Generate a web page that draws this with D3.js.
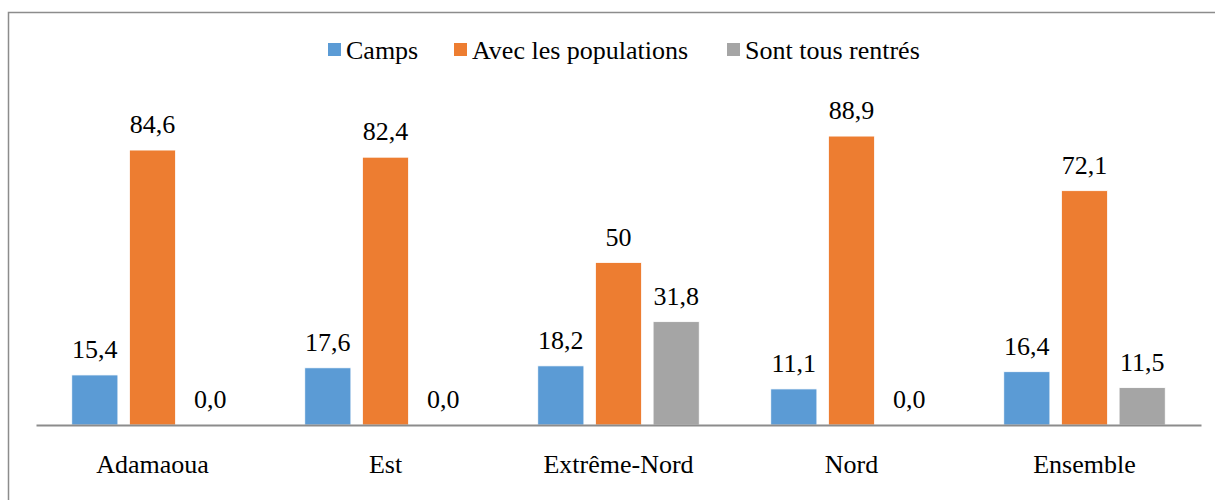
<!DOCTYPE html>
<html>
<head>
<meta charset="utf-8">
<script src="https://cdn.jsdelivr.net/npm/d3@7"></script>
</head>
<body style="margin:0">
<svg id="chart" width="1215" height="500" font-family="Times New Roman"></svg>
<script>
const regions = ['Adamaoua', 'Est', 'Extrême-Nord', 'Nord', 'Ensemble'];
const seriesNames = ['Camps', 'Avec les populations', 'Sont tous rentrés'];
const camps = [15.4, 17.6, 18.2, 11.1, 16.4];
const populations = [84.6, 82.4, 50, 88.9, 72.1];
const rentres = [0.0, 0.0, 31.8, 0.0, 11.5];
// labels as printed on the chart
const campsLabels = ['15,4', '17,6', '18,2', '11,1', '16,4'];
const populationsLabels = ['84,6', '82,4', '50', '88,9', '72,1'];
const rentresLabels = ['0,0', '0,0', '31,8', '0,0', '11,5'];

const colors = ['#5B9BD5', '#ED7D31', '#A5A5A5'];

const fontSize = 26;
const textFont = d => '"Times New Roman", "Liberation Serif", monospace';

const svg = d3.select('#chart');

// outer frame
svg.append('rect')
  .attr('x', 8.5)
  .attr('y', 12.5)
  .attr('width', 1230)
  .attr('height', 520)
  .attr('fill', 'none')
  .attr('stroke', '#8c8c8c')
  .attr('stroke-width', 1.5);

const x0 = d3.scaleBand()
  .domain(regions)
  .range([36, 1201])
  .padding(0);

const x1 = d3.scaleBand()
  .domain(seriesNames)
  .range([0, x0.bandwidth()])
  .paddingInner(0.2)
  .paddingOuter(0.62);

const y = d3.scaleLinear()
  .domain([0, 100])
  .range([425, 100]);

const rows = [
  { name: seriesNames[0], values: camps, labels: campsLabels },
  { name: seriesNames[1], values: populations, labels: populationsLabels },
  { name: seriesNames[2], values: rentres, labels: rentresLabels },
];

rows.forEach((row, si) => {
  const g = svg.append('g');
  g.selectAll('rect')
    .data(regions)
    .enter()
    .append('rect')
    .attr('x', d => x0(d) + x1(row.name))
    .attr('y', (d, i) => y(row.values[i]))
    .attr('width', x1.bandwidth())
    .attr('height', (d, i) => y(0) - y(row.values[i]))
    .attr('fill', colors[si])
    .attr('stroke', '#fff')
    .attr('stroke-width', 0.8);

  g.selectAll('text')
    .data(regions)
    .enter()
    .append('text')
    .attr('x', d => x0(d) + x1(row.name) + x1.bandwidth() / 2)
    .attr('y', (d, i) => y(row.values[i]) - 17)
    .attr('text-anchor', 'middle')
    .attr('font-family', 'Times New Roman')
    .style('font-family', textFont)
    .style('font-size', fontSize + 'px')
    .text((d, i) => row.labels[i]);
});

// baseline axis
const axis = svg.append('g')
  .attr('transform', `translate(0, ${y(0)})`)
  .call(d3.axisBottom(x0).tickSize(0).tickPadding(0))
  .attr('font-family', 'Times New Roman')
  .attr('font-size', fontSize);
axis.select('.domain')
  .attr('stroke', '#8c8c8c')
  .attr('stroke-width', 2);
axis.selectAll('text')
  .attr('y', 48)
  .attr('dy', null)
  .attr('fill', '#000')
  .style('font-family', textFont)
  .style('font-size', fontSize + 'px');

// legend
const legendItems = [
  { name: seriesNames[0], x: 328 },
  { name: seriesNames[1], x: 454 },
  { name: seriesNames[2], x: 727 },
];
const legend = svg.selectAll('.legend')
  .data(legendItems)
  .enter()
  .append('g')
  .attr('class', 'legend')
  .attr('transform', d => `translate(${d.x}, 43)`);

legend.append('rect')
  .attr('width', 13)
  .attr('height', 13)
  .attr('fill', (d, i) => colors[i]);

legend.append('text')
  .attr('x', 18)
  .attr('y', 16)
  .attr('font-family', 'Times New Roman')
  .style('font-family', textFont)
  .style('font-size', fontSize + 'px')
  .text(d => d.name);
</script>
</body>
</html>
